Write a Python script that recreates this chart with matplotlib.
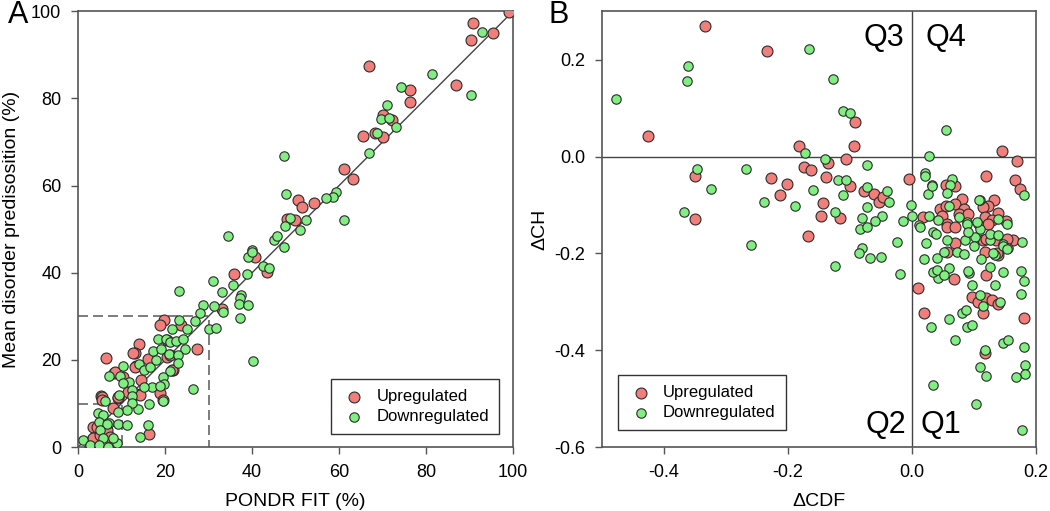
import numpy as np
import matplotlib.pyplot as plt

plt.rcParams['font.family'] = ['Liberation Sans', 'DejaVu Sans']

# ---- Panel A data: PONDR FIT (%) vs mean disorder predisposition (%) ----
a_up = np.array([
    (99, 99.8), (90.7, 97.2), (90.3, 93.5), (95.5, 94.9), (67, 87.4), (87, 83),
    (76.3, 81.9), (76.3, 79.2), (70, 76.3), (72.1, 75), (68.3, 72), (70, 71.2),
    (65.4, 71.3), (61.1, 63.7), (63.1, 61.6), (50.6, 56.6), (51.6, 55), (54.3, 55.9),
    (48, 52.3), (49.9, 52.1), (40.7, 43.6), (43.4, 40.2), (35.9, 39.8), (33.2, 31.7),
    (19.8, 29.1), (18.9, 28.1), (23.7, 28), (20.4, 24.5), (14.1, 23.6), (13.1, 21.6),
    (27.3, 22.6), (6.4, 20.5), (13.3, 18.6), (16.2, 20.3), (20.4, 20.7), (21.9, 17.8),
    (8.3, 17), (14.5, 15.4), (18.9, 12.5), (13.3, 12.1), (5.3, 11.8), (8.1, 8.9),
    (9.1, 11.2), (16.3, 3.1), (3.5, 4.7), (3.4, 2), (5.1, 2.8), (10.4, 16.1),
    (11.6, 12.7), (2.8, 0), (6.6, 3.9), (12.7, 21.6), (21.1, 21.1), (13.1, 18.4),
    (8.5, 17.3), (21.5, 17.7), (5.4, 11.5), (5.4, 10.8), (9.3, 11.5), (14.3, 11.9),
    (19.6, 10.8), (4.3, 4.7), (7.4, 2.4),
])
a_down = np.array([
    (92.8, 95.3), (81.3, 85.7), (90.3, 80.7), (74.3, 82.6), (71.1, 78.6), (69.6, 75.2),
    (71.6, 75.4), (73, 73.4), (68.7, 72.1), (67, 67.5), (47.3, 66.9), (47.8, 58),
    (59.3, 58.5), (58.7, 57.3), (56.9, 57.1), (61.1, 52), (48.7, 52.5), (52.4, 52.1),
    (47.6, 50.8), (51, 49.8), (34.4, 48.4), (45, 47.6), (45.8, 48.4), (47.3, 45.9),
    (39.9, 45.2), (39, 43.6), (39.9, 44.8), (42.5, 41.5), (43.8, 41), (38.9, 39.8),
    (31, 38.1), (23.1, 35.8), (33, 35.6), (35.7, 37.1), (37.5, 35), (37.2, 34.1),
    (37.1, 32.8), (39, 32.6), (37.2, 29.7), (28.7, 32.6), (31.3, 32.3), (28, 30.7),
    (33.4, 30.9), (26.9, 29), (23.1, 29.1), (25, 27), (21.6, 27.1), (30, 27.1),
    (31.7, 27.3), (18.4, 24.9), (20.2, 24.7), (21.1, 24.2), (22.5, 24.3), (24.2, 24.7),
    (24.6, 22.4), (40.2, 19.7), (17.2, 22.1), (19, 22.4), (21, 21.3), (22.9, 21.1),
    (22.9, 19.3), (21.1, 17.4), (19.5, 16.1), (19.8, 14.4), (19.6, 10.6), (26.4, 13.3),
    (16.3, 9.9), (10.4, 18.7), (14.1, 19), (15.2, 17.7), (16.6, 18.4), (17.9, 20),
    (7.2, 16.3), (9.7, 16.3), (11.8, 15), (10.3, 14.6), (16.9, 13.8), (15.2, 13.7),
    (18.9, 14), (12.3, 13.1), (9.5, 11.9), (12.3, 11.7), (13.9, 8.7), (6.2, 10.6),
    (12.3, 10.2), (11.2, 8.5), (9.3, 8.1), (4.7, 7.9), (5.8, 7.3), (4.9, 5.8),
    (7.2, 5.6), (9.1, 5.4), (6.6, 5.4), (11.3, 5), (16.2, 5), (14.3, 2.4),
    (5.1, 3.9), (5.8, 2), (1.1, 1.6), (2.8, 0.5), (4.9, 0.5), (7, 0.1),
    (8.9, 1), (8, 2),
])

# ---- Panel B data: delta CDF vs delta CH ----
b_up = np.array([
    (-0.334, 0.270), (-0.234, 0.217), (-0.426, 0.043), (-0.092, 0.071), (-0.183, 0.021),
    (-0.094, 0.021), (-0.107, -0.005), (-0.136, -0.014), (-0.174, -0.022), (-0.163, -0.027),
    (-0.35, -0.041), (-0.227, -0.044), (-0.138, -0.043), (-0.202, -0.056), (-0.1, -0.06),
    (-0.213, -0.08), (-0.077, -0.072), (-0.061, -0.077), (-0.054, -0.093), (-0.143, -0.095),
    (-0.046, -0.084), (-0.147, -0.122), (-0.116, -0.127), (-0.35, -0.128), (-0.167, -0.165),
    (-0.005, -0.047), (0.145, 0.012), (0.17, -0.01), (0.119, -0.041), (0.166, -0.049),
    (0.174, -0.067), (0.055, -0.058), (0.069, -0.06), (0.01, -0.272), (0.02, -0.323),
    (0.117, -0.405), (0.181, -0.333), (0.096, -0.289), (0.107, -0.3), (0.12, -0.293),
    (0.129, -0.297), (0.138, -0.305), (0.115, -0.323), (0.12, -0.244), (0.068, -0.252),
    (0.118, -0.197), (0.138, -0.204), (0.163, -0.173), (0.069, -0.179), (0.115, -0.173),
    (0.08, -0.087), (0.069, -0.098), (0.084, -0.108), (0.133, -0.089), (0.123, -0.103),
    (0.115, -0.105), (0.139, -0.116), (0.045, -0.108), (0.055, -0.103), (0.018, -0.124),
    (0.048, -0.122), (0.075, -0.118), (0.091, -0.118), (0.118, -0.124), (0.129, -0.132),
    (0.152, -0.133), (0.056, -0.139), (0.056, -0.146), (0.069, -0.146), (0.122, -0.14),
    (0.119, -0.17), (0.135, -0.173), (0.153, -0.17), (0.137, -0.2), (0.056, -0.197),
])
b_down = np.array([
    (-0.166, 0.222), (-0.361, 0.186), (-0.363, 0.155), (-0.477, 0.118), (-0.127, 0.161),
    (-0.111, 0.095), (-0.1, 0.089), (0.054, 0.054), (-0.173, 0.008), (-0.141, -0.005),
    (-0.073, -0.017), (0.028, 0.002), (-0.347, -0.025), (-0.268, -0.025), (-0.324, -0.067),
    (-0.12, -0.048), (-0.106, -0.048), (-0.159, -0.069), (-0.072, -0.062), (-0.041, -0.072),
    (-0.112, -0.08), (-0.238, -0.093), (-0.188, -0.103), (-0.037, -0.094), (-0.072, -0.105),
    (-0.367, -0.115), (-0.125, -0.115), (-0.081, -0.126), (-0.048, -0.122), (-0.059, -0.133),
    (-0.014, -0.134), (-0.002, -0.101), (-0.084, -0.15), (-0.073, -0.146), (-0.024, -0.177),
    (-0.26, -0.183), (0.021, -0.034), (0.021, -0.041), (0.032, -0.059), (0.025, -0.077),
    (0.064, -0.046), (0.061, -0.058), (0.057, -0.076), (0.109, -0.089), (0.181, -0.079),
    (-0.081, -0.189), (-0.085, -0.199), (-0.067, -0.21), (-0.05, -0.208), (-0.124, -0.225),
    (-0.019, -0.243), (0.03, -0.353), (0.034, -0.472), (0.069, -0.378), (0.06, -0.336),
    (0.08, -0.324), (0.087, -0.316), (0.089, -0.352), (0.096, -0.348), (0.118, -0.4),
    (0.109, -0.434), (0.12, -0.453), (0.103, -0.51), (0.147, -0.384), (0.155, -0.379),
    (0.18, -0.394), (0.182, -0.431), (0.182, -0.449), (0.168, -0.455), (0.178, -0.565),
    (0.176, -0.283), (0.18, -0.257), (0.175, -0.237), (0.134, -0.265), (0.147, -0.239),
    (0.142, -0.3), (0.109, -0.285), (0.115, -0.309), (0.096, -0.266), (0.092, -0.241),
    (0.09, -0.236), (0.059, -0.23), (0.042, -0.251), (0.034, -0.239), (0.04, -0.234),
    (0.052, -0.245), (0.02, -0.211), (0.04, -0.209), (0.051, -0.197), (0.072, -0.197),
    (0.084, -0.202), (0.112, -0.211), (0.125, -0.229), (0.134, -0.203), (0.146, -0.181),
    (0.154, -0.189), (0.178, -0.177), (0.023, -0.179), (0.056, -0.173), (0.085, -0.172),
    (0.126, -0.173), (0.102, -0.166), (0.033, -0.06), (0.108, -0.089), (0.059, -0.103),
    (0.0, -0.122), (0.028, -0.122), (0.042, -0.132), (0.075, -0.125), (0.088, -0.135),
    (0.139, -0.128), (0.153, -0.139), (0.012, -0.142), (0.107, -0.139), (0.013, -0.146),
    (0.034, -0.156), (0.039, -0.16), (0.088, -0.14), (0.091, -0.156), (0.11, -0.149),
    (0.104, -0.135), (0.125, -0.16), (0.139, -0.161), (0.1, -0.184), (0.147, -0.184),
    (0.153, -0.19), (0.131, -0.2),
])

red = '#f07f7b'
green = '#80ee80'
edge = '#2b2b2b'
frame = '#555555'

fig = plt.figure(figsize=(10.5, 5.11), dpi=100)
axA = fig.add_axes([0.0743, 0.125, 0.4143, 0.853])
axB = fig.add_axes([0.5733, 0.125, 0.4134, 0.853])


def style_axis(ax):
    for sp in ax.spines.values():
        sp.set_color(frame)
        sp.set_linewidth(1.2)
    ax.tick_params(direction='out', length=5, width=1, color=frame,
                   labelsize=13, pad=7, top=False, right=False)


# Panel A
axA.scatter(a_up[:, 0], a_up[:, 1], s=62, c=red, edgecolors=edge, linewidths=0.8,
            label='Upregulated', zorder=3)
axA.scatter(a_down[:, 0], a_down[:, 1], s=46, c=green, edgecolors=edge, linewidths=0.8,
            label='Downregulated', zorder=4)
axA.plot([0, 100], [0, 100], color='#444444', lw=1, zorder=2)
axA.plot([0, 30, 30], [30, 30, 0], color='#666666', lw=1.2, ls=(0, (6, 3)), zorder=1)
axA.plot([0, 10, 10], [10, 10, 0], color='#666666', lw=1.2, ls=(0, (6, 3)), zorder=1)
axA.set_xlim(0, 100)
axA.set_ylim(0, 100)
axA.set_xticks(np.arange(0, 101, 20))
axA.set_yticks(np.arange(0, 101, 20))
axA.set_xlabel('PONDR FIT (%)', fontsize=14, labelpad=9)
axA.set_ylabel('Mean disorder predisosition (%)', fontsize=14, labelpad=8)
style_axis(axA)
legA = axA.legend(loc='lower right', bbox_to_anchor=(0.968, 0.03), fontsize=12,
                  fancybox=False, edgecolor='#333333', framealpha=1, borderaxespad=0,
                  borderpad=0.6, handletextpad=0.6, labelspacing=0.3, handlelength=1.5)
legA.get_frame().set_linewidth(1.0)

# Panel B
axB.scatter(b_up[:, 0], b_up[:, 1], s=62, c=red, edgecolors=edge, linewidths=0.8,
            label='Upregulated', zorder=3)
axB.scatter(b_down[:, 0], b_down[:, 1], s=46, c=green, edgecolors=edge, linewidths=0.8,
            label='Downregulated', zorder=4)
axB.axhline(0, color='#444444', lw=1, zorder=2)
axB.axvline(0, color='#444444', lw=1, zorder=2)
axB.set_xlim(-0.5, 0.2)
axB.set_ylim(-0.6, 0.3)
axB.set_xticks([-0.4, -0.2, 0.0, 0.2])
axB.set_yticks([-0.6, -0.4, -0.2, 0.0, 0.2])
axB.xaxis.set_major_formatter(plt.FormatStrFormatter('%.1f'))
axB.yaxis.set_major_formatter(plt.FormatStrFormatter('%.1f'))
axB.set_xlabel('\u0394CDF', fontsize=14, labelpad=9)
axB.set_ylabel('\u0394CH', fontsize=14, labelpad=4)
style_axis(axB)
axB.text(-0.012, 0.245, 'Q3', fontsize=22, ha='right', va='center')
axB.text(0.022, 0.245, 'Q4', fontsize=22, ha='left', va='center')
axB.text(-0.01, -0.555, 'Q2', fontsize=22, ha='right', va='center')
axB.text(0.014, -0.555, 'Q1', fontsize=22, ha='left', va='center')
legB = axB.legend(loc='lower left', bbox_to_anchor=(0.037, 0.039), fontsize=12,
                  fancybox=False, edgecolor='#333333', framealpha=1, borderaxespad=0,
                  borderpad=0.6, handletextpad=0.6, labelspacing=0.3, handlelength=1.5)
legB.get_frame().set_linewidth(1.0)

fig.text(0.008, 0.955, 'A', fontsize=22)
fig.text(0.522, 0.955, 'B', fontsize=22)

plt.savefig('out.png', dpi=100)
